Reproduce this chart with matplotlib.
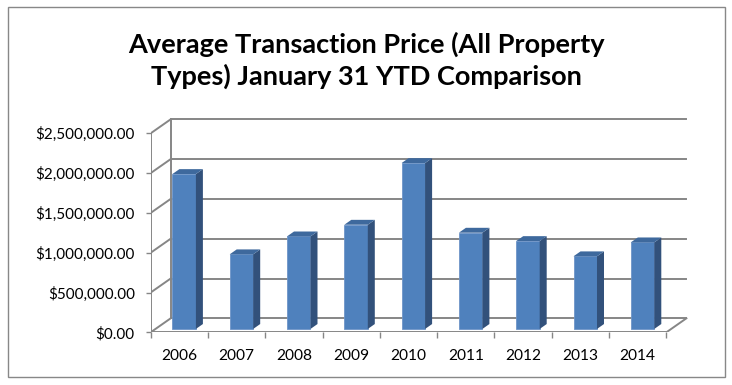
import matplotlib.pyplot as plt
from matplotlib.patches import Polygon, Rectangle
from matplotlib.lines import Line2D
import numpy as np

# data
years = ['2006', '2007', '2008', '2009', '2010', '2011', '2012', '2013', '2014']
avg_price = [1946000, 937500, 1162500, 1309000, 2084000, 1209000, 1104000, 912500, 1087500]
y_ticks = [0, 500000, 1000000, 1500000, 2000000, 2500000]

plt.rcParams['font.family'] = ['Lato', 'DejaVu Sans']

W, H = 732, 385
fig = plt.figure(figsize=(W / 100, H / 100), dpi=100)

# outer chart border
fig.patches.append(Rectangle((8 / W, 1 - 377 / H), (725 - 8) / W, (377 - 7) / H,
                             transform=fig.transFigure, fill=False,
                             edgecolor='#888888', linewidth=1.0))

fig.text(0.5, 1 - 60 / H, 'Average Transaction Price (All Property\nTypes) January 31 YTD Comparison',
         ha='center', va='center', fontsize=19.5, fontweight='bold', linespacing=1.3)

# plot area (front plane of the pseudo 3D box)
x0, y0, x1, y1 = 150.7, 332.3, 690, 112
ax = fig.add_axes([x0 / W, 1 - y0 / H, (x1 - x0) / W, (y0 - y1) / H])
px_x = 57.3
px_y = 79.6e-6
xmax = -0.5 + (x1 - x0) / px_x
ymax = (y0 - y1) / px_y
ax.set_xlim(-0.5, xmax)
ax.set_ylim(0, ymax)
for s in ax.spines.values():
    s.set_visible(False)

n = len(years)
DX = 20 / px_x          # depth offset in category units
DY = 14 / px_y          # depth offset in value units
grid_c = '#868686'
lw = 1.4
top = y_ticks[-1]

# back wall gridlines + left wall diagonals
for v in y_ticks:
    ax.add_line(Line2D([-0.5 + DX, n - 0.5 + DX], [v + DY, v + DY], color=grid_c, lw=lw, zorder=1))
    ax.add_line(Line2D([-0.5, -0.5 + DX], [v, v + DY], color=grid_c, lw=lw, zorder=1))
ax.add_line(Line2D([-0.5 + DX, -0.5 + DX], [DY, top + DY], color=grid_c, lw=lw, zorder=1))
ax.add_line(Line2D([-0.5, -0.5], [0, top], color=grid_c, lw=lw, zorder=1))
# floor
ax.add_line(Line2D([-0.5, n - 0.5], [0, 0], color=grid_c, lw=lw, zorder=1))
ax.add_line(Line2D([n - 0.5, n - 0.5 + DX], [0, DY], color=grid_c, lw=lw, zorder=1))

# bars
d0, dd = 0.24, 0.35
bw = 0.41
xs = np.arange(n) + d0 * DX
b0 = d0 * DY
bdx, bdy = dd * DX, dd * DY
front_c, side_c, top_c = '#4F81BD', '#32517B', '#3E699D'
ax.bar(xs, avg_price, width=bw, bottom=b0, color=front_c, edgecolor='#6E95C8',
       linewidth=0.6, zorder=3)
for xc, v in zip(xs, avg_price):
    xl, xr = xc - bw / 2, xc + bw / 2
    yt = b0 + v
    ax.add_patch(Polygon([(xr, b0), (xr + bdx, b0 + bdy), (xr + bdx, yt + bdy), (xr, yt)],
                         closed=True, facecolor=side_c, edgecolor='none', zorder=3))
    ax.add_patch(Polygon([(xl, yt), (xr, yt), (xr + bdx, yt + bdy), (xl + bdx, yt + bdy)],
                         closed=True, facecolor=top_c, edgecolor='none', zorder=3))

# ticks and labels
ax.set_yticks(y_ticks)
ax.set_yticklabels(['${:,.2f}'.format(v) for v in y_ticks])
ax.tick_params(axis='y', length=3.5, width=1, color=grid_c, pad=8, labelsize=11, labelcolor='#000000')
ax.set_xticks(np.arange(n))
ax.set_xticklabels(years)
ax.set_xticks(np.arange(n + 1) - 0.5, minor=True)
ax.tick_params(axis='x', which='major', length=0, pad=12, labelsize=11.2)
ax.tick_params(axis='x', which='minor', length=4.3, width=1, color=grid_c)

fig.savefig('out.png', dpi=100)
